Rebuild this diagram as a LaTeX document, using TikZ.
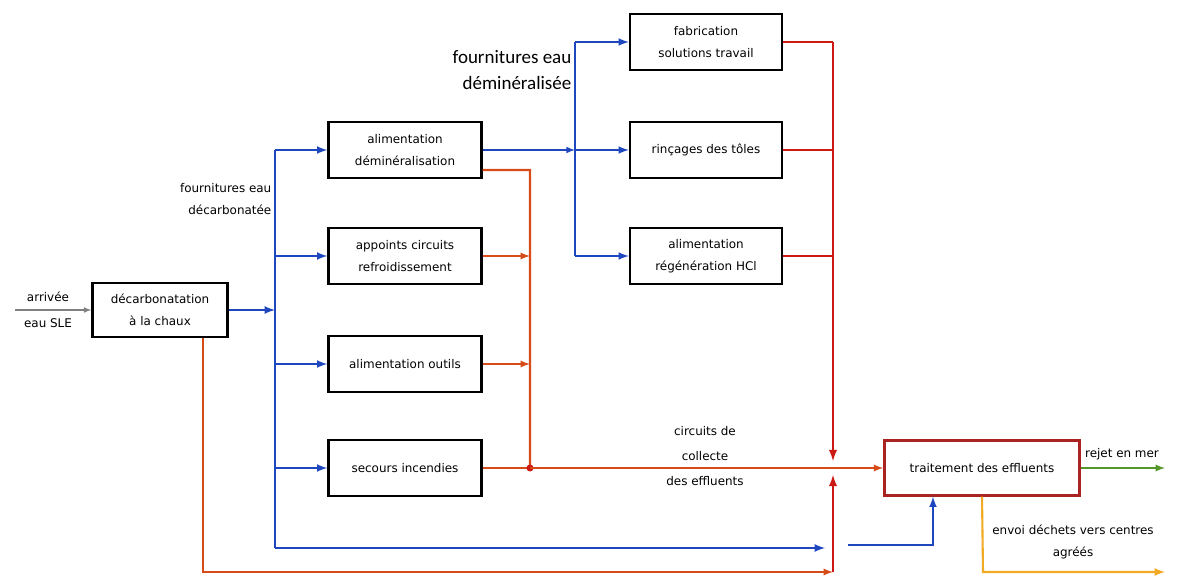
\documentclass[tikz,border=0pt]{standalone}
\usepackage{fontspec}
\usepackage{tikz}
\usepackage{xcolor}
\usetikzlibrary{positioning}
\usetikzlibrary{calc}
\newfontfamily\boxfont{DejaVu Sans}
\newfontfamily\bigfont{Carlito}
\definecolor{bleu}{RGB}{30,70,190}
\definecolor{rouge}{RGB}{205,25,20}
\definecolor{orangerouge}{RGB}{215,75,25}
\definecolor{bordeaux}{RGB}{170,35,35}
\definecolor{vert}{RGB}{85,150,40}
\definecolor{jaune}{RGB}{240,170,35}

\begin{document}
\begin{tikzpicture}[x=0.025cm,y=-0.025cm,
  boite/.style={draw=black,line width=1.7pt,fill=white,align=center,
    font=\boxfont\fontsize{8.5}{16}\selectfont,inner sep=1pt},
  etiq/.style={font=\boxfont\fontsize{8.5}{16}\selectfont,inner sep=1pt},
  bus/.style={bleu,line width=1.5pt},
  rej/.style={rouge,line width=1.7pt},
  col/.style={orangerouge,line width=1.3pt},
  fl/.style={-latex}]
\useasboundingbox (0,0) rectangle (1177,576);

\node[boite,minimum width=3.375cm,minimum height=1.35cm] (dec) at (160,310) {décarbonatation\\à la chaux};
\node[boite,minimum width=3.825cm,minimum height=1.4cm] (alim) at (405,150) {alimentation\\déminéralisation};
\node[boite,minimum width=3.825cm,minimum height=1.4cm] (app) at (405,256) {appoints circuits\\refroidissement};
\node[boite,minimum width=3.825cm,minimum height=1.4cm] (outils) at (405,364) {alimentation outils};
\node[boite,minimum width=3.825cm,minimum height=1.4cm] (secours) at (405,468) {secours incendies};
\node[boite,minimum width=3.8cm,minimum height=1.4cm] (fab) at (706,42) {fabrication\\solutions travail};
\node[boite,minimum width=3.8cm,minimum height=1.4cm] (rinc) at (706,150) {rinçages des tôles};
\node[boite,minimum width=3.8cm,minimum height=1.4cm] (regen) at (706,256) {alimentation\\régénération HCl};
\node[boite,draw=bordeaux,minimum width=4.875cm,minimum height=1.375cm] (trait) at (982,468) {traitement des effluents};

\node[etiq] (arr) at (48,297) {arrivée};
\node[etiq] (sle) at (48,323) {eau SLE};
\node[etiq,align=right,anchor=east] (fdec) at (273,199) {fournitures eau\\décarbonatée};
\node[font=\bigfont\fontsize{13.5}{19}\selectfont,align=right,anchor=east,inner sep=1pt] (fdem) at (573,70) {fournitures eau\\déminéralisée};
\node[etiq] (circ1) at (705,431) {circuits de};
\node[etiq] (circ2) at (705,456) {collecte};
\node[etiq] (circ3) at (705,481) {des effluents};
\node[etiq] (rejet) at (1122,454) {rejet en mer};
\node[etiq,align=center] (envoi) at (1073,542) {envoi déchets vers centres\\agréés};

\coordinate (e0) at (15,310);
\coordinate (b0) at (275,310);
\coordinate (b1) at (275,150);
\coordinate (b2) at (275,548);
\coordinate (b3) at (825,548);
\coordinate (b4) at (848,545);
\coordinate (d0) at (575,150);
\coordinate (d1) at (575,42);
\coordinate (d2) at (575,256);
\coordinate (c0) at (530,170);
\coordinate (c1) at (530,468);
\coordinate (r0) at (833,42);
\coordinate (r1) at (833,461);
\coordinate (r2) at (833,475);
\coordinate (r3) at (833,572);
\coordinate (r4) at (203,572);
\coordinate (s0) at (1165,468);
\coordinate (s1) at (983,572);
\coordinate (s2) at (1165,572);

% arrivee
\draw[gray,line width=0.8pt,fl] (e0) -- (dec.west);

% eau decarbonatee
\draw[bus,fl] (dec.east) -- (b0);
\draw[bus] (b1) -- (b2);
\draw[bus,fl] (b2) -- (b3);
\draw[bus,fl] (b1) -- (alim.west);
\draw[bus,fl] (app.west -| b0) -- (app.west);
\draw[bus,fl] (outils.west -| b0) -- (outils.west);
\draw[bus,fl] (secours.west -| b0) -- (secours.west);
\draw[bus,fl] (b4) -| ([xshift=-1.225cm]trait.south);

% eau demineralisee
\draw[bleu,line width=1.1pt,fl] (alim.east) -- (d0);
\draw[bus] (d1) -- (d2);
\draw[bus,fl] (d1) -- (fab.west);
\draw[bus,fl] (d0) -- (rinc.west);
\draw[bus,fl] (d2) -- (regen.west);

% collecte
\draw[col,line width=1.7pt] ([yshift=-0.5cm]alim.east) -- (c0) -- (c1);
\draw[col,fl] (app.east) -- (app.east -| c0);
\draw[col,fl] (outils.east) -- (outils.east -| c0);
\draw[col] (secours.east) -- (c1);
\draw[fill=rouge,draw=none] (c1) circle (3.5);
\draw[col,fl] (c1) -- (trait.west);

\draw[rej] (fab.east) -- (r0);
\draw[rej,fl] (r0) -- (r1);
\draw[rej] (rinc.east) -- (rinc.east -| r0);
\draw[rej] (regen.east) -- (regen.east -| r0);
\draw[col,fl] ([xshift=1.075cm]dec.south) -- (r4) -- (r3);
\draw[rej,fl] (r3) -- (r2);

% sorties
\draw[vert,line width=1.3pt,fl] (trait.east) -- (s0);
\draw[jaune,line width=1.5pt,fl] (trait.south) -- (s1) -- (s2);
\end{tikzpicture}
\end{document}
